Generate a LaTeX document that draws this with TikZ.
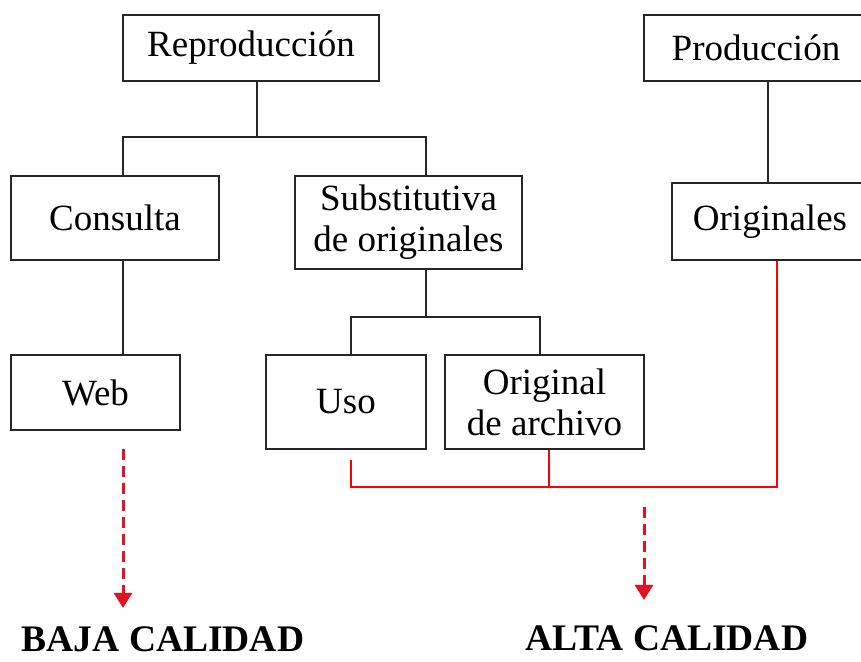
\documentclass[tikz,border=0pt]{standalone}
\usepackage{fontspec}
\setmainfont{Liberation Serif}
\usetikzlibrary{arrows.meta}
\tikzset{>={Triangle[length=15pt,width=18pt]}}
\definecolor{qred}{RGB}{225,20,35}

\begin{document}
\begin{tikzpicture}[x=1pt,y=-1pt,
    boxnode/.style={draw=black!85,line width=1.2pt,inner sep=0pt,align=center,font=\fontsize{37pt}{41pt}\selectfont},
    tree/.style={draw=black!85,line width=1.2pt},
    redline/.style={draw=red,line width=1.2pt},
    quality/.style={draw=qred,line width=3pt,dash pattern=on 11pt off 6pt,->},
    qualtext/.style={inner sep=0pt,font=\fontsize{37.5pt}{40pt}\selectfont\bfseries}]
    \useasboundingbox (0,0) rectangle (861,661);

    \node[boxnode,minimum width=256pt,minimum height=66pt] (repro) at (251,48) {Reproducción};
    \node[boxnode,minimum width=224pt,minimum height=66pt] (prod) at (756,48) {Producción};
    \node[boxnode,minimum width=208pt,minimum height=84pt] (cons) at (115,218) {Consulta};
    \node[boxnode,minimum width=227pt,minimum height=93pt] (sub) at (408.5,222.5) {Substitutiva\\de originales};
    \node[boxnode,minimum width=196pt,minimum height=77pt] (orig) at (770,221.5) {Originales};
    \node[boxnode,minimum width=169pt,minimum height=75pt] (web) at (95.5,392.5) {Web};
    \node[boxnode,minimum width=160pt,minimum height=94pt] (uso) at (346,402) {Uso};
    \node[boxnode,minimum width=199pt,minimum height=94pt] (arch) at (544.5,402) {Original\\de archivo};

    \node[qualtext,anchor=base] (baja) at (163,651) {BAJA CALIDAD};
    \node[qualtext,anchor=base] (alta) at (667,650) {ALTA CALIDAD};

    \coordinate (colA) at (123,0);
    \coordinate (colS) at (426,0);
    \coordinate (colU) at (351,0);
    \coordinate (colV) at (540,0);
    \coordinate (colW) at (549,0);
    \coordinate (colP) at (768,0);
    \coordinate (j1) at (257,137);
    \coordinate (j2) at (426,317);
    \coordinate (j3) at (777,487);
    \coordinate (colC) at (644,487);

    \draw[tree] (j1 |- repro.south) -- (j1);
    \draw[tree] (cons.north -| colA) |- (j1) -| (sub.north -| colS);
    \draw[tree] (cons.south -| colA) -- (web.north -| colA);
    \draw[tree] (j2 |- sub.south) -- (j2);
    \draw[tree] (uso.north -| colU) |- (j2) -| (arch.north -| colV);
    \draw[tree] (prod.south -| colP) -- (orig.north -| colP);

    \draw[redline,shorten <=10pt] (uso.south -| colU) |- (j3) -- (j3 |- orig.south);
    \draw[redline] (arch.south -| colW) -- (colW |- j3);

    \draw[quality,shorten <=18pt,shorten >=18pt] (web.south -| colA) -- (baja.north -| colA);
    \draw[quality,shorten <=20pt,shorten >=25pt] (colC) -- (alta.north -| colC);
\end{tikzpicture}
\end{document}
